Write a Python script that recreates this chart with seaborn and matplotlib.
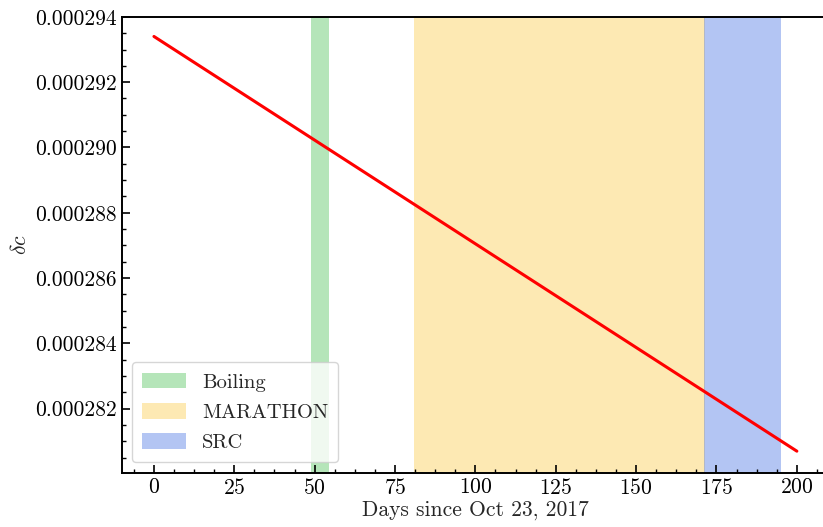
import matplotlib
matplotlib.use("Agg")
import matplotlib.pyplot as plt
from matplotlib.ticker import AutoMinorLocator, MultipleLocator
import seaborn as sns
import pandas as pd

# data
days = [0, 200]
delta_c = [0.0002934, 0.0002807]

periods = ["Boiling", "MARATHON", "SRC"]
period_start = [49, 81, 171]
period_end = [54.5, 171.5, 195]
period_colors = [(72/255, 190/255, 80/255), (250/255, 200/255, 67/255), (67/255, 112/255, 227/255)]

sns.set_theme(style="ticks")
plt.rcParams["font.family"] = "serif"
plt.rcParams["font.serif"] = ["cmr10", "DejaVu Serif"]
plt.rcParams["mathtext.fontset"] = "cm"
plt.rcParams["axes.formatter.use_mathtext"] = True
plt.rcParams["axes.unicode_minus"] = False

df = pd.DataFrame({"days": days, "dc": delta_c})

fig, ax = plt.subplots(figsize=(8.23, 5.27), dpi=100)
fig.subplots_adjust(left=0.148, right=1.0073, top=0.968, bottom=0.103)

for name, s, e, c in zip(periods, period_start, period_end, period_colors):
    ax.axvspan(s, e, color=c, alpha=0.4, lw=0, label=name, zorder=0)

sns.lineplot(data=df, x="days", y="dc", color="red", lw=2.2, ax=ax, zorder=3)

ax.set_xlim(-10, 210)
ax.set_ylim(0.00028004, 0.000294)
ax.xaxis.set_major_locator(MultipleLocator(25))
ax.xaxis.set_minor_locator(AutoMinorLocator(4))
ax.yaxis.set_minor_locator(AutoMinorLocator(4))
ax.yaxis.set_major_formatter(plt.FuncFormatter(lambda v, p: f"{v:.6f}"))
ax.set_yticks([0.000282, 0.000284, 0.000286, 0.000288, 0.00029, 0.000292, 0.000294])

ax.tick_params(which="both", direction="in", top=False, right=False, colors="black",
               labelsize=15.5)
ax.tick_params(which="major", length=6, width=1.2)
ax.tick_params(which="minor", length=3, width=1.0)
for sp in ax.spines.values():
    sp.set_linewidth(1.4)
    sp.set_color("black")

ax.set_xlabel("Days since Oct 23, 2017", fontsize=15.5, labelpad=2)
ax.set_ylabel(r"$\delta c$", fontsize=15.5)

ax.legend(loc="lower left", fontsize=14.8, frameon=True, framealpha=0.8,
          handlelength=2.1, handleheight=0.8, borderpad=0.5, labelspacing=0.55)

plt.savefig("out.png", dpi=100)
